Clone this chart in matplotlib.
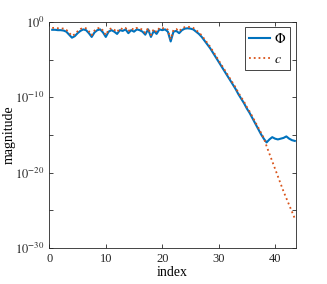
import numpy as np
import matplotlib.pyplot as plt

plt.rcParams['font.family'] = ['Liberation Serif', 'DejaVu Serif']
plt.rcParams['mathtext.fontset'] = 'stix'

# sample positions (index) and log10 magnitudes
index = np.arange(0.5, 44.0, 0.5)

phi_log = [
    -1.05, -1.05, -1.1, -1.1, -1.15, -1.3, -1.7, -2.1, -1.9, -1.5,
    -1.2, -1.0, -1.1, -1.5, -2.0, -1.4, -1.1, -1.0, -1.4, -2.0,
    -1.3, -1.1, -1.3, -1.6, -1.1, -1.2, -1.0, -1.5, -1.1, -1.3,
    -1.0, -1.1, -1.3, -1.7, -1.0, -2.0, -1.2, -1.6, -1.0, -1.1,
    -1.0, -1.3, -2.6, -1.3, -1.2, -1.5, -1.1, -0.9, -0.85, -0.9,
    -1.0, -1.3, -1.6, -2.0, -2.5, -3.0, -3.5, -4.1, -4.7, -5.3,
    -5.9, -6.5, -7.1, -7.7, -8.3, -8.9, -9.6, -10.2, -10.8, -11.5,
    -12.1, -12.8, -13.5, -14.2, -14.9, -15.5, -16.0, -15.6, -15.3, -15.5,
    -15.6, -15.5, -15.4, -15.2, -15.5, -15.7, -15.8,
]

c_log = [
    -0.8, -0.8, -0.85, -0.85, -0.9, -1.05, -1.45, -1.85, -1.65, -1.25,
    -0.95, -0.8, -0.85, -1.25, -1.75, -1.15, -0.85, -0.8, -1.15, -1.75,
    -1.05, -0.85, -1.05, -1.35, -0.85, -0.95, -0.8, -1.25, -0.85, -1.05,
    -0.8, -0.85, -1.05, -1.45, -0.8, -1.75, -0.95, -1.35, -0.8, -0.85,
    -0.8, -1.05, -2.3, -1.05, -0.95, -1.25, -0.85, -0.7, -0.65, -0.7,
    -0.8, -1.1, -1.4, -1.8, -2.3, -2.8, -3.3, -3.9, -4.5, -5.1,
    -5.7, -6.3, -6.9, -7.5, -8.1, -8.7, -9.4, -10.0, -10.6, -11.3,
    -11.9, -12.6, -13.3, -14.0, -14.7, -15.4, -16.5, -17.5, -18.5, -19.5,
    -20.5, -21.5, -22.5, -23.4, -24.3, -25.2, -26.1,
]

phi = 10.0 ** np.array(phi_log)
c = 10.0 ** np.array(c_log)

fig = plt.figure(figsize=(3.27, 2.84), dpi=100)
ax = fig.add_axes([0.151, 0.127, 0.754, 0.796])

ax.semilogy(index, phi, color='#0072BD', linewidth=1.5, label=r'$\Phi$')
ax.semilogy(index, c, color='#D95319', linewidth=1.3, linestyle=':', label=r'$c$')

ax.set_xlim(0, 43.7)
ax.set_ylim(1e-30, 1e0)
ax.set_xticks([0, 10, 20, 30, 40])
yt = [1e0, 1e-5, 1e-10, 1e-15, 1e-20, 1e-25, 1e-30]
ax.set_yticks(yt)
ax.set_yticklabels([r'$10^{0}$', '', r'$10^{-10}$', '', r'$10^{-20}$', '', r'$10^{-30}$'])
ax.minorticks_off()
ax.tick_params(direction='in', length=3, width=0.6, colors='#262626',
               labelsize=9, top=True, right=True)
for s in ax.spines.values():
    s.set_color('#262626')
    s.set_linewidth(0.6)

ax.set_xlabel('index', fontsize=10, labelpad=1)
ax.set_ylabel('magnitude', fontsize=10, labelpad=0)

leg = ax.legend(loc='upper right', fontsize=10, handlelength=1.5,
                fancybox=False, framealpha=1, borderaxespad=0.4,
                handletextpad=0.3, borderpad=0.3, labelspacing=0.5)
leg.get_frame().set_edgecolor('#262626')
leg.get_frame().set_linewidth(0.6)

plt.savefig('out.png', dpi=100)
